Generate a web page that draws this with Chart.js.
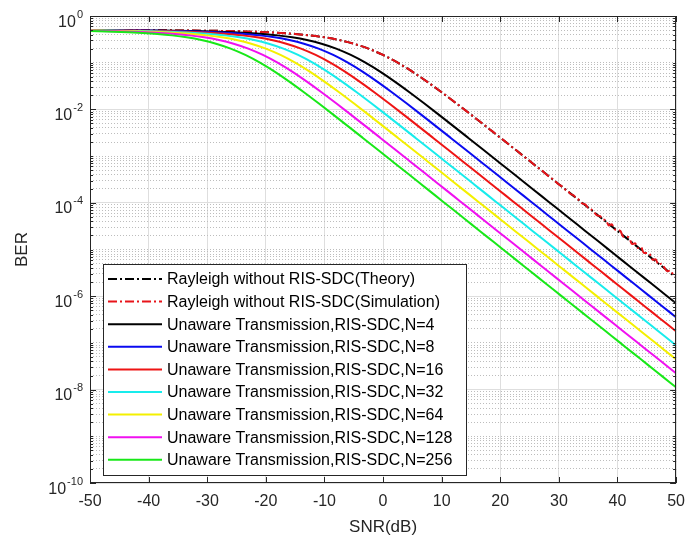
<!DOCTYPE html>
<html><head><meta charset="utf-8">
<script src="https://cdn.jsdelivr.net/npm/chart.js@4.4.1/dist/chart.umd.min.js"></script>
<style>html,body{margin:0;padding:0;background:#fff;}</style>
</head><body>
<canvas id="c" width="694" height="545"></canvas>
<script>
// ---------------- data ----------------
const seriesLabels = [
  'Rayleigh without RIS-SDC(Theory)',
  'Rayleigh without RIS-SDC(Simulation)',
  'Unaware Transmission,RIS-SDC,N=4',
  'Unaware Transmission,RIS-SDC,N=8',
  'Unaware Transmission,RIS-SDC,N=16',
  'Unaware Transmission,RIS-SDC,N=32',
  'Unaware Transmission,RIS-SDC,N=64',
  'Unaware Transmission,RIS-SDC,N=128',
  'Unaware Transmission,RIS-SDC,N=256'
];
const xTicks = [-50,-40,-30,-20,-10,0,10,20,30,40,50];
const yTickExponents = [0,-2,-4,-6,-8,-10];

const snrTheory = [-50,-47.5,-45,-42.5,-40,-37.5,-35,-32.5,-30,-27.5,-25,-22.5,-20,-17.5,-15,-12.5,-10,-7.5,-5,-2.5,0,2.5,5,7.5,10,12.5,15,17.5,20,22.5,25,27.5,30,32.5,35,37.5,40,42.5,45,47.5,50];
const berTheory = [0.4984,0.4979,0.4972,0.4962,0.4950,0.4933,0.4911,0.4882,0.4842,0.4789,0.4719,0.4626,0.4503,0.4339,0.4125,0.3846,0.3493,0.3057,0.2549,0.2000,0.1464,0.1000,0.06418,0.03929,0.02327,0.01349,0.007723,0.004387,0.002481,0.001400,7.887e-4,4.440e-4,2.498e-4,1.405e-4,7.906e-5,4.446e-5,2.5e-5,1.406e-5,7.906e-6,4.446e-6,2.5e-6];

const snrSim = [-50,-47.5,-45,-42.5,-40,-37.5,-35,-32.5,-30,-27.5,-25,-22.5,-20,-17.5,-15,-12.5,-10,-7.5,-5,-2.5,0,2.5,5,7.5,
  10,11,12,13,14,15,16,17,18,19,20,21,22,23,24,25,26,27,28,29,30,
  30.5,31,31.5,32,32.5,33,33.5,34,34.5,35,35.5,36,36.5,37,37.5,38,38.5,39,39.5,40,40.5,41,41.5,42,42.5,43,43.5,44,44.5,45,45.5,46,46.5,47,47.5,48,48.5,49,49.5,50];
const berSim = [0.4985,0.4978,0.4973,0.4961,0.4951,0.4932,0.4912,0.4881,0.4843,0.4788,0.4720,0.4625,0.4504,0.4338,0.4126,0.3845,0.3494,0.3056,0.2550,0.1999,0.1465,0.1000,0.06420,0.03927,
  0.02328,0.01876,0.01505,0.01209,0.009650,0.007735,0.006150,0.004930,0.003900,0.003130,0.002470,0.001985,0.001562,0.001256,0.000985,0.000795,0.000620,0.000503,0.000391,0.000318,0.000247,
  2.249e-4,1.966e-4,1.805e-4,1.546e-4,1.448e-4,1.240e-4,1.139e-4,9.654e-5,9.225e-5,7.748e-5,7.257e-5,6.280e-5,5.373e-5,5.237e-5,4.402e-5,4.279e-5,3.284e-5,3.462e-5,2.721e-5,2.625e-5,2.495e-5,1.867e-5,1.876e-5,1.766e-5,1.308e-5,1.353e-5,1.072e-5,1.135e-5,8.427e-6,8.459e-6,7.962e-6,6.029e-6,6.157e-6,4.739e-6,4.980e-6,4.081e-6,3.425e-6,3.556e-6,2.917e-6,2.625e-6];

const snrN4 = [-50.5,-48,-45.5,-43,-40.5,-38,-35.5,-33,-30.5,-28,-25.5,-23,-20.5,-18,-15.5,-13,-10.5,-8,-5.5,-3,-0.5,2,4.5,7,9.5,12,14.5,17,19.5,22,24.5,27,29.5,32,34.5,37,39.5,42,44.5,47,49.5,52];
const berN4 = [0.4972,0.4962,0.4950,0.4933,0.4911,0.4882,0.4842,0.4789,0.4719,0.4626,0.4503,0.4339,0.4125,0.3846,0.3493,0.3057,0.2549,0.2000,0.1464,0.1000,0.06418,0.03929,0.02327,0.01349,0.007723,0.004387,0.002481,0.001400,7.887e-4,4.440e-4,2.498e-4,1.405e-4,7.906e-5,4.446e-5,2.5e-5,1.406e-5,7.906e-6,4.446e-6,2.5e-6,1.406e-6,7.906e-7,4.446e-7];

const snrN8 = [-51,-48.5,-46,-43.5,-41,-38.5,-36,-33.5,-31,-28.5,-26,-23.5,-21,-18.5,-16,-13.5,-11,-8.5,-6,-3.5,-1,1.5,4,6.5,9,11.5,14,16.5,19,21.5,24,26.5,29,31.5,34,36.5,39,41.5,44,46.5,49,51.5];
const berN8 = [0.4962,0.4950,0.4933,0.4911,0.4882,0.4842,0.4789,0.4719,0.4626,0.4503,0.4339,0.4125,0.3846,0.3493,0.3057,0.2549,0.2000,0.1464,0.1000,0.06418,0.03929,0.02327,0.01349,0.007723,0.004387,0.002481,0.001400,7.887e-4,4.440e-4,2.498e-4,1.405e-4,7.906e-5,4.446e-5,2.5e-5,1.406e-5,7.906e-6,4.446e-6,2.5e-6,1.406e-6,7.906e-7,4.446e-7,2.5e-7];

const snrN16 = [-51.5,-49,-46.5,-44,-41.5,-39,-36.5,-34,-31.5,-29,-26.5,-24,-21.5,-19,-16.5,-14,-11.5,-9,-6.5,-4,-1.5,1,3.5,6,8.5,11,13.5,16,18.5,21,23.5,26,28.5,31,33.5,36,38.5,41,43.5,46,48.5,51];
const berN16 = [0.4950,0.4933,0.4911,0.4882,0.4842,0.4789,0.4719,0.4626,0.4503,0.4339,0.4125,0.3846,0.3493,0.3057,0.2549,0.2000,0.1464,0.1000,0.06418,0.03929,0.02327,0.01349,0.007723,0.004387,0.002481,0.001400,7.887e-4,4.440e-4,2.498e-4,1.405e-4,7.906e-5,4.446e-5,2.5e-5,1.406e-5,7.906e-6,4.446e-6,2.5e-6,1.406e-6,7.906e-7,4.446e-7,2.5e-7,1.406e-7];

const snrN32 = [-52,-49.5,-47,-44.5,-42,-39.5,-37,-34.5,-32,-29.5,-27,-24.5,-22,-19.5,-17,-14.5,-12,-9.5,-7,-4.5,-2,0.5,3,5.5,8,10.5,13,15.5,18,20.5,23,25.5,28,30.5,33,35.5,38,40.5,43,45.5,48,50.5];
const berN32 = [0.4933,0.4911,0.4882,0.4842,0.4789,0.4719,0.4626,0.4503,0.4339,0.4125,0.3846,0.3493,0.3057,0.2549,0.2000,0.1464,0.1000,0.06418,0.03929,0.02327,0.01349,0.007723,0.004387,0.002481,0.001400,7.887e-4,4.440e-4,2.498e-4,1.405e-4,7.906e-5,4.446e-5,2.5e-5,1.406e-5,7.906e-6,4.446e-6,2.5e-6,1.406e-6,7.906e-7,4.446e-7,2.5e-7,1.406e-7,7.906e-8];

const snrN64 = [-50,-47.5,-45,-42.5,-40,-37.5,-35,-32.5,-30,-27.5,-25,-22.5,-20,-17.5,-15,-12.5,-10,-7.5,-5,-2.5,0,2.5,5,7.5,10,12.5,15,17.5,20,22.5,25,27.5,30,32.5,35,37.5,40,42.5,45,47.5,50];
const berN64 = [0.4882,0.4842,0.4789,0.4719,0.4626,0.4503,0.4339,0.4125,0.3846,0.3493,0.3057,0.2549,0.2000,0.1464,0.1000,0.06418,0.03929,0.02327,0.01349,0.007723,0.004387,0.002481,0.001400,7.887e-4,4.440e-4,2.498e-4,1.405e-4,7.906e-5,4.446e-5,2.5e-5,1.406e-5,7.906e-6,4.446e-6,2.5e-6,1.406e-6,7.906e-7,4.446e-7,2.5e-7,1.406e-7,7.906e-8,4.446e-8];

const snrN128 = [-50.5,-48,-45.5,-43,-40.5,-38,-35.5,-33,-30.5,-28,-25.5,-23,-20.5,-18,-15.5,-13,-10.5,-8,-5.5,-3,-0.5,2,4.5,7,9.5,12,14.5,17,19.5,22,24.5,27,29.5,32,34.5,37,39.5,42,44.5,47,49.5,52];
const berN128 = [0.4842,0.4789,0.4719,0.4626,0.4503,0.4339,0.4125,0.3846,0.3493,0.3057,0.2549,0.2000,0.1464,0.1000,0.06418,0.03929,0.02327,0.01349,0.007723,0.004387,0.002481,0.001400,7.887e-4,4.440e-4,2.498e-4,1.405e-4,7.906e-5,4.446e-5,2.5e-5,1.406e-5,7.906e-6,4.446e-6,2.5e-6,1.406e-6,7.906e-7,4.446e-7,2.5e-7,1.406e-7,7.906e-8,4.446e-8,2.5e-8,1.406e-8];

const snrN256 = [-51,-48.5,-46,-43.5,-41,-38.5,-36,-33.5,-31,-28.5,-26,-23.5,-21,-18.5,-16,-13.5,-11,-8.5,-6,-3.5,-1,1.5,4,6.5,9,11.5,14,16.5,19,21.5,24,26.5,29,31.5,34,36.5,39,41.5,44,46.5,49,51.5];
const berN256 = [0.4789,0.4719,0.4626,0.4503,0.4339,0.4125,0.3846,0.3493,0.3057,0.2549,0.2000,0.1464,0.1000,0.06418,0.03929,0.02327,0.01349,0.007723,0.004387,0.002481,0.001400,7.887e-4,4.440e-4,2.498e-4,1.405e-4,7.906e-5,4.446e-5,2.5e-5,1.406e-5,7.906e-6,4.446e-6,2.5e-6,1.406e-6,7.906e-7,4.446e-7,2.5e-7,1.406e-7,7.906e-8,4.446e-8,2.5e-8,1.406e-8,7.906e-9];

// ---------------- styling ----------------
const FONT = "'Liberation Sans', Arial, Helvetica, sans-serif";
const seriesX = [snrTheory, snrSim, snrN4, snrN8, snrN16, snrN32, snrN64, snrN128, snrN256];
const seriesY = [berTheory, berSim, berN4, berN8, berN16, berN32, berN64, berN128, berN256];
const colors = ['#000000','#e8141a','#000000','#0a0af0','#ee1414','#18ecec','#f4f000','#f010f0','#18e818'];
const dashes = [[9,3,2,3],[9,3,2,3],[],[],[],[],[],[],[]];

const datasets = seriesLabels.map((lab, i) => ({
  label: lab,
  data: seriesX[i].map((x, j) => ({x: x, y: seriesY[i][j]})),
  borderColor: colors[i],
  backgroundColor: colors[i],
  borderDash: dashes[i],
  borderWidth: 2,
  pointRadius: 0,
  fill: false,
  cubicInterpolationMode: 'monotone',
  clip: 0,
  order: 20 - i
}));

function yInfo(v) {
  const e = Math.floor(Math.log10(v) + 1e-9);
  const k = Math.round(v / Math.pow(10, e));
  return {e, k};
}

const matlabPlugin = {
  id: 'matlabFrame',
  afterDraw(chart) {
    const ctx = chart.ctx;
    const a = chart.chartArea;
    const xs = chart.scales.x, ys = chart.scales.y;
    ctx.save();
    // frame
    ctx.strokeStyle = '#262626';
    ctx.lineWidth = 1;
    ctx.setLineDash([]);
    ctx.strokeRect(Math.round(a.left) + 0.5, Math.round(a.top) + 0.5,
                   Math.round(a.right - a.left) - 1, Math.round(a.bottom - a.top) - 1);
    // x ticks
    ctx.beginPath();
    xTicks.forEach(v => {
      const px = Math.round(xs.getPixelForValue(v)) + 0.5;
      ctx.moveTo(px, a.bottom); ctx.lineTo(px, a.bottom - 6);
      ctx.moveTo(px, a.top); ctx.lineTo(px, a.top + 6);
    });
    // y ticks
    ys.ticks.forEach(t => {
      const inf = yInfo(t.value);
      const len = (inf.k === 1 && inf.e % 2 === 0) ? 6 : 3;
      const py = Math.round(ys.getPixelForValue(t.value)) + 0.5;
      ctx.moveTo(a.left, py); ctx.lineTo(a.left + len, py);
      ctx.moveTo(a.right, py); ctx.lineTo(a.right - len, py);
    });
    ctx.stroke();
    // y tick labels 10^e
    ctx.fillStyle = '#262626';
    ctx.textBaseline = 'alphabetic';
    ctx.textAlign = 'left';
    yTickExponents.forEach(e => {
      const py = ys.getPixelForValue(Math.pow(10, e));
      const expText = String(e);
      ctx.font = '11px ' + FONT;
      const we = ctx.measureText(expText).width;
      ctx.font = '16px ' + FONT;
      const wb = ctx.measureText('10').width;
      const right = 83;
      ctx.fillText('10', right - we - wb - 1, py + 10.5);
      ctx.font = '11px ' + FONT;
      ctx.fillText(expText, right - we, py + 1.5);
    });
    // legend
    const L = {x: 103, y: 264, w: 363, h: 211, row0: 279, step: 22.6, lx0: 108, lx1: 162, tx: 167};
    ctx.fillStyle = '#ffffff';
    ctx.fillRect(L.x, L.y, L.w, L.h);
    ctx.strokeStyle = '#262626';
    ctx.lineWidth = 1;
    ctx.strokeRect(L.x + 0.5, L.y + 0.5, L.w, L.h);
    chart.data.datasets.forEach((ds, i) => {
      const cy = L.row0 + i * L.step;
      ctx.beginPath();
      ctx.strokeStyle = ds.borderColor;
      ctx.lineWidth = 2;
      ctx.setLineDash(ds.borderDash || []);
      ctx.moveTo(L.lx0, cy); ctx.lineTo(L.lx1, cy);
      ctx.stroke();
      ctx.setLineDash([]);
      ctx.fillStyle = '#000000';
      ctx.font = '16px ' + FONT;
      ctx.textBaseline = 'middle';
      ctx.fillText(ds.label, L.tx, cy + 1);
    });
    ctx.restore();
  }
};

new Chart(document.getElementById('c'), {
  type: 'line',
  data: {datasets},
  options: {
    responsive: false,
    animation: false,
    devicePixelRatio: 1,
    layout: {padding: {left: 0, top: 16, right: 10, bottom: 0}},
    plugins: {legend: {display: false}, tooltip: {enabled: false}},
    scales: {
      x: {
        type: 'linear', min: -50, max: 50,
        afterBuildTicks: s => { s.ticks = xTicks.map(v => ({value: v})); },
        afterFit: s => { s.height = 62; },
        ticks: {font: {family: FONT, size: 16}, color: '#262626', padding: 9, maxRotation: 0, autoSkip: false,
                callback: v => String(v)},
        grid: {color: '#dedede', lineWidth: 1, drawTicks: false},
        border: {display: false},
        title: {display: true, text: 'SNR(dB)', color: '#262626', font: {family: FONT, size: 17},
                padding: {top: 0, bottom: 7}}
      },
      y: {
        type: 'logarithmic', min: 1e-10, max: 1,
        afterBuildTicks: s => {
          const t = [];
          for (let e = -10; e < 0; e++) {
            for (let k = 1; k <= 9; k++) t.push({value: k * Math.pow(10, e)});
          }
          t.push({value: 1});
          s.ticks = t;
        },
        afterFit: s => { s.width = 90; },
        ticks: {display: false},
        grid: {
          drawTicks: false, lineWidth: 1,
          color: c => { const f = yInfo(c.tick.value); return (f.k === 1 && f.e % 2 === 0) ? '#dedede' : '#bdbdbd'; }
        },
        border: {
          display: false,
          dash: c => { if (!c.tick) return []; const f = yInfo(c.tick.value); return (f.k === 1 && f.e % 2 === 0) ? [] : [1, 2]; }
        },
        title: {display: true, text: 'BER', color: '#262626', font: {family: FONT, size: 17},
                padding: {top: 12, bottom: 0}}
      }
    }
  },
  plugins: [matlabPlugin]
});
</script>
</body></html>
